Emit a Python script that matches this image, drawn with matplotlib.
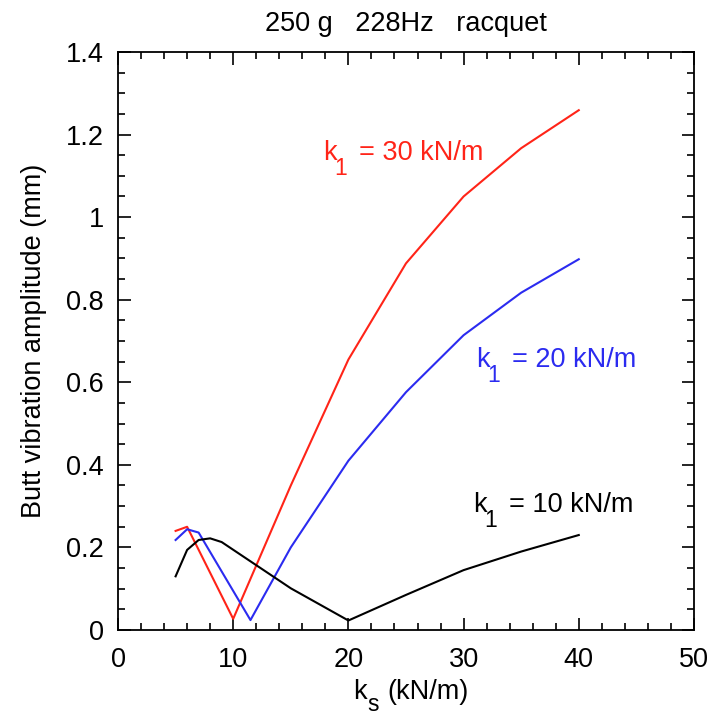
import matplotlib
matplotlib.use("Agg")
import matplotlib.pyplot as plt
from matplotlib.ticker import MultipleLocator

plt.rcParams['font.family'] = ['Liberation Sans', 'DejaVu Sans']

# k1 = 30 kN/m
ks_30 = [5, 6, 10, 15, 20, 25, 30, 35, 40]
amp_30 = [0.24, 0.25, 0.027, 0.35, 0.655, 0.888, 1.05, 1.167, 1.259]

# k1 = 20 kN/m
ks_20 = [5, 6, 7, 11.5, 15, 20, 25, 30, 35, 40]
amp_20 = [0.218, 0.244, 0.236, 0.024, 0.2, 0.41, 0.576, 0.714, 0.817, 0.898]

# k1 = 10 kN/m
ks_10 = [5, 6, 7, 8, 9, 15, 20, 25, 30, 35, 40]
amp_10 = [0.13, 0.194, 0.218, 0.222, 0.213, 0.101, 0.023, 0.085, 0.145, 0.19, 0.23]

fs = 19.5
red = '#ff2418'
blue = '#2b2bf0'


def sub_label(ax, x, y, main, sub, rest, color, coords='data',
              sub_dx=8, sub_dy=-11, rest_dx=26):
    # main letter, then a low subscript, then the rest of the text
    ax.annotate(main, xy=(x, y), xycoords=coords, color=color, fontsize=fs)
    ax.annotate(sub, xy=(x, y), xycoords=coords, xytext=(sub_dx, sub_dy),
                textcoords='offset points', color=color, fontsize=fs * 0.85)
    ax.annotate(rest, xy=(x, y), xycoords=coords, xytext=(rest_dx, 0),
                textcoords='offset points', color=color, fontsize=fs)


fig = plt.figure(figsize=(7.13, 7.2), dpi=100)
ax = fig.add_axes([0.1655, 0.125, 0.9733 - 0.1655, 0.9278 - 0.125])

ax.plot(ks_30, amp_30, color=red, lw=1.5)
ax.plot(ks_20, amp_20, color=blue, lw=1.5)
ax.plot(ks_10, amp_10, color='black', lw=1.5)

ax.set_xlim(0, 50)
ax.set_ylim(0, 1.4)
ax.xaxis.set_major_locator(MultipleLocator(10))
ax.xaxis.set_minor_locator(MultipleLocator(2))
ax.yaxis.set_minor_locator(MultipleLocator(0.05))
ax.set_yticks([0, 0.2, 0.4, 0.6, 0.8, 1.0, 1.2, 1.4])
ax.set_yticklabels(['0', '0.2', '0.4', '0.6', '0.8', '1', '1.2', '1.4'])
ax.tick_params(which='both', direction='in', top=True, right=True, labelsize=fs, width=1.2)
ax.tick_params(which='major', length=9)
ax.tick_params(axis='x', which='major', pad=12)
ax.tick_params(axis='y', which='major', pad=10)
ax.tick_params(which='minor', length=5)
for s in ax.spines.values():
    s.set_linewidth(1.3)

ax.set_ylabel('Butt vibration amplitude (mm)', fontsize=fs, labelpad=14)
ax.set_title('250 g   228Hz   racquet', fontsize=fs, pad=15)

# x label: k with subscript s
sub_label(ax, 0.408, -0.119, 'k', 's', '(kN/m)', 'black', coords='axes fraction',
          sub_dx=10, sub_dy=-9, rest_dx=25)

sub_label(ax, 17.8, 1.138, 'k', '1', '= 30 kN/m', red)
sub_label(ax, 31.1, 0.638, 'k', '1', '= 20 kN/m', blue)
sub_label(ax, 30.85, 0.287, 'k', '1', '= 10 kN/m', 'black')

fig.savefig('out.png', dpi=100)
